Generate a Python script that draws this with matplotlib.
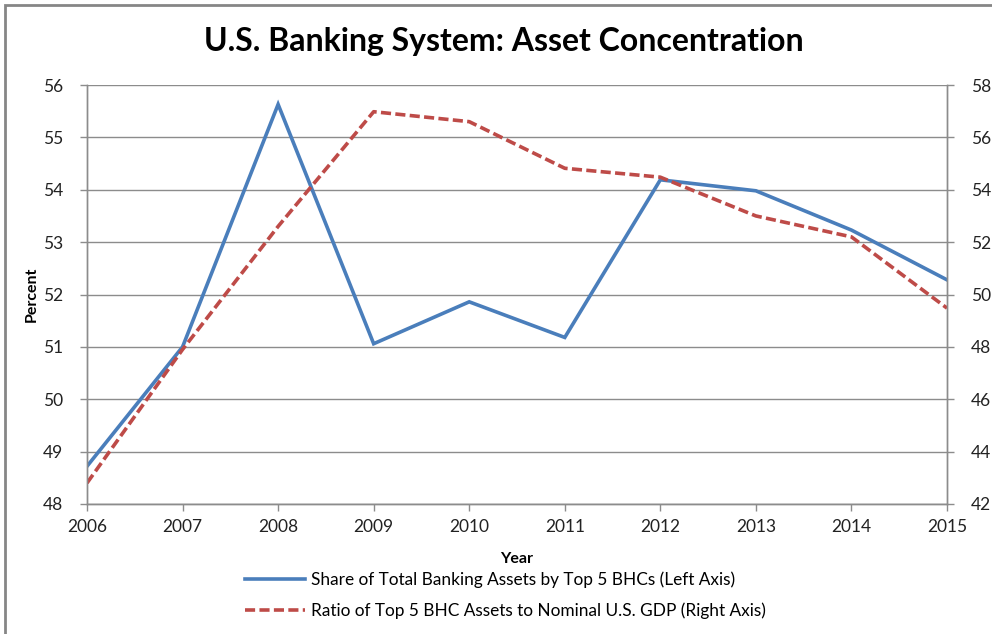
import matplotlib
matplotlib.use("Agg")
import matplotlib.pyplot as plt
from matplotlib.patches import Rectangle

# data
years = [2006, 2007, 2008, 2009, 2010, 2011, 2012, 2013, 2014, 2015]
share_top5 = [48.72, 51.0, 55.63, 51.06, 51.86, 51.18, 54.19, 53.98, 53.23, 52.28]
ratio_gdp = [42.8, 47.9, 52.6, 56.98, 56.6, 54.82, 54.48, 53.0, 52.2, 49.48]
left_ticks = [48, 49, 50, 51, 52, 53, 54, 55, 56]
right_ticks = [42, 44, 46, 48, 50, 52, 54, 56, 58]

blue = '#4A7EBB'
red = '#BE4B48'
grid_c = '#8C8C8C'

plt.rcParams['font.family'] = ['Lato', 'DejaVu Sans']

fig = plt.figure(figsize=(9.92, 6.34), dpi=100)
ax = fig.add_axes([87/992, 1-504/634, (947-87)/992, (504-85)/634])
ax2 = ax.twinx()

l1, = ax.plot(years, share_top5, color=blue, lw=2.6, solid_joinstyle='miter')
l2, = ax2.plot(years, ratio_gdp, color=red, lw=2.6, dashes=(2.8, 1.2))

ax.set_xlim(2006, 2015)
ax.set_ylim(48, 56)
ax2.set_ylim(42, 58)
ax.set_xticks(years)
ax.set_yticks(left_ticks)
ax2.set_yticks(right_ticks)
ax.yaxis.grid(True, color=grid_c, lw=1)
ax.set_axisbelow(True)

for a in (ax, ax2):
    a.spines['top'].set_visible(False)
    for s in ('left', 'right', 'bottom'):
        a.spines[s].set_color(grid_c)
        a.spines[s].set_linewidth(1)
    a.tick_params(colors=grid_c, labelcolor='#222222', labelsize=12.5,
                  length=5, width=1, direction='out')
ax.tick_params(axis='x', pad=6)
ax.tick_params(axis='y', pad=12)
ax2.tick_params(axis='y', pad=12)

ax.set_ylabel('Percent', fontsize=11.5, fontweight='bold', labelpad=3)
ax.set_xlabel('Year', fontsize=11.5, fontweight='bold', labelpad=12)

fig.text(504/992, 1-41/634, 'U.S. Banking System: Asset Concentration',
         ha='center', va='center', fontsize=23, fontweight='bold')

fig.legend([l1, l2],
           ['Share of Total Banking Assets by Top 5 BHCs (Left Axis)',
            'Ratio of Top 5 BHC Assets to Nominal U.S. GDP (Right Axis)'],
           loc='upper left', bbox_to_anchor=(236/992, 1-563/634),
           frameon=False, fontsize=12.4, handlelength=3.5, handletextpad=0.35,
           labelspacing=0.85, borderpad=0)

# chart area border
fig.patches.append(Rectangle((5/992, -0.1), 1.2, 1 - 5/634 + 0.1,
                             transform=fig.transFigure, fill=False,
                             edgecolor='#868686', lw=2))

fig.savefig('out.png', dpi=100)
